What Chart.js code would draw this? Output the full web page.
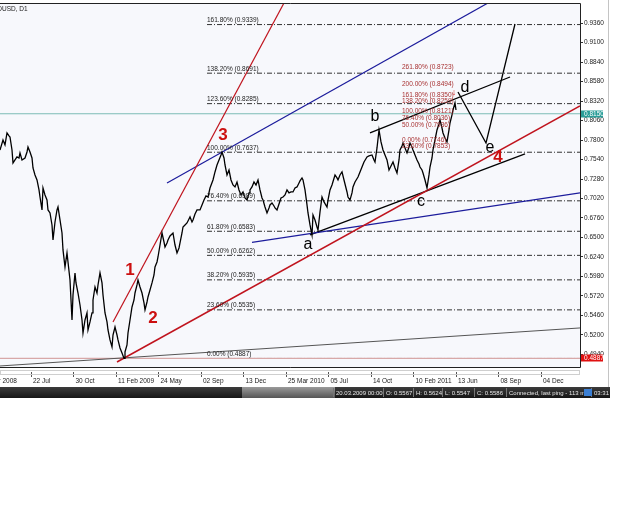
<!DOCTYPE html>
<html><head><meta charset="utf-8">
<script src="https://cdn.jsdelivr.net/npm/chart.js@4.4.1/dist/chart.umd.min.js"></script>
<style>html,body{margin:0;padding:0;background:#fff;overflow:hidden}canvas{display:block}</style>
</head><body>
<canvas id="c" width="625" height="517"></canvas>
<script>
// ---------- DATA ----------
const symbolTitle = 'NZDUSD, D1';
const dateLabels = ['Apr 2008','22 Jul','30 Oct','11 Feb 2009','24 May','02 Sep','13 Dec','25 Mar 2010','05 Jul','14 Oct','10 Feb 2011','13 Jun','08 Sep','04 Dec'];
const dateTickBars = [-23,62,147,232,317,402,487,572,657,742,827,912,997,1082];
const priceTicks = [0.9360,0.9100,0.8840,0.8580,0.8320,0.8060,0.7800,0.7540,0.7280,0.7020,0.6760,0.6500,0.6240,0.5980,0.5720,0.5460,0.5200,0.4940];

const barIndex = [0,6,10,14,18,20,24,26,30,34,38,40,44,50,54,56,60,64,66,70,74,78,80,84,86,90,94,96,100,104,106,110,114,116,120,124,126,130,134,136,140,142,144,146,150,152,156,160,164,166,170,174,176,180,184,186,190,194,196,200,204,206,210,214,216,220,224,226,230,234,236,240,244,248,250,254,256,260,264,268,270,274,276,280,284,288,290,294,296,300,304,308,310,314,316,320,324,328,330,334,336,340,346,350,354,358,360,364,366,370,374,378,380,384,386,390,394,400,404,408,412,416,420,426,430,434,438,442,444,448,450,454,458,462,466,470,474,478,482,486,490,494,498,500,504,508,512,516,520,524,526,530,534,538,540,544,548,550,554,558,562,566,570,574,578,582,586,590,594,598,600,604,606,610,614,616,620,622,624,626,630,634,636,640,644,648,654,656,660,664,670,674,676,680,684,688,694,696,700,704,706,710,716,720,724,728,734,738,744,748,750,754,758,762,766,770,774,778,782,786,790,794,798,800,804,806,810,814,818,820,824,826,830,834,838,840,844,846,850,854,858,860,864,866,870,874,878,880,884,886,890,894,898,900,904,906,910,912];
const closePrice = [0.7667,0.7800,0.7734,0.7894,0.7854,0.7840,0.7667,0.7494,0.7534,0.7574,0.7560,0.7627,0.7534,0.7560,0.7640,0.7707,0.7640,0.7560,0.7427,0.7334,0.7267,0.7134,0.7040,0.6867,0.7160,0.7067,0.7000,0.6867,0.6827,0.6667,0.6467,0.6707,0.6867,0.6907,0.6734,0.6560,0.6334,0.6107,0.6294,0.6174,0.5934,0.5667,0.5400,0.5734,0.6027,0.5894,0.5760,0.5600,0.5400,0.5227,0.5400,0.5494,0.5267,0.5374,0.5494,0.5667,0.5840,0.5760,0.5867,0.6027,0.5894,0.5734,0.5494,0.5374,0.5267,0.5134,0.5040,0.5200,0.5307,0.5200,0.5134,0.5027,0.4960,0.4889,0.4974,0.5067,0.5227,0.5400,0.5574,0.5667,0.5760,0.5867,0.5934,0.5840,0.5760,0.5627,0.5534,0.5640,0.5707,0.5800,0.5894,0.6000,0.6107,0.6174,0.6240,0.6400,0.6560,0.6440,0.6374,0.6427,0.6467,0.6520,0.6560,0.6400,0.6294,0.6360,0.6427,0.6560,0.6640,0.6667,0.6694,0.6747,0.6774,0.6707,0.6734,0.6814,0.6867,0.6867,0.6934,0.7000,0.7054,0.7040,0.7160,0.7267,0.7374,0.7467,0.7534,0.7600,0.7640,0.7560,0.7467,0.7334,0.7400,0.7267,0.7200,0.7174,0.7240,0.7134,0.7067,0.7107,0.7027,0.7000,0.7094,0.7134,0.7174,0.7240,0.7200,0.7267,0.7134,0.7027,0.7000,0.6907,0.6827,0.6894,0.6934,0.6960,0.6920,0.6894,0.6867,0.6947,0.7027,0.7040,0.7067,0.7134,0.7094,0.7107,0.7107,0.7160,0.7174,0.7227,0.7254,0.7294,0.7267,0.7134,0.6934,0.6827,0.6667,0.6600,0.6534,0.6800,0.6734,0.6640,0.6600,0.6840,0.7040,0.6974,0.6907,0.7000,0.7134,0.7200,0.7334,0.7294,0.7267,0.7334,0.7374,0.7267,0.7107,0.7040,0.7000,0.7094,0.7174,0.7240,0.7307,0.7374,0.7440,0.7507,0.7574,0.7587,0.7600,0.7534,0.7507,0.7694,0.7934,0.7774,0.7667,0.7600,0.7534,0.7400,0.7454,0.7507,0.7427,0.7360,0.7534,0.7667,0.7720,0.7760,0.7694,0.7627,0.7707,0.7760,0.7707,0.7667,0.7600,0.7534,0.7480,0.7440,0.7400,0.7360,0.7267,0.7160,0.7334,0.7440,0.7560,0.7667,0.7800,0.7934,0.8014,0.8067,0.7960,0.7894,0.7827,0.7774,0.7934,0.8027,0.8134,0.8200,0.8294,0.8200];

// trend lines: [bar, price] pairs
const wave13Line = [[226,0.5374],[568,0.9627]];
const wave24Line = [[234,0.4840],[1160,0.8254]];
const upperBlueLine = [[334,0.7227],[976,0.9627]];
const lowerBlueLine = [[504,0.6434],[1160,0.7094]];
const baseGrayLine = [[0,0.4787],[1160,0.5294]];
const acLine = [[620,0.6534],[1050,0.7614]];
const bdLine = [[740,0.7894],[1020,0.8640]];
const projectionPath = [[916,0.8440],[972,0.7760],[1030,0.9347]];

const bidPrice = 0.8150;
const levelPrice = 0.4887;

// Fibonacci (large)
const fibPercents = ['161.80%','138.20%','123.60%','100.00%','76.40%','61.80%','50.00%','38.20%','23.60%','0.00%'];
const fibLevels = [0.9339,0.8691,0.8285,0.7637,0.6989,0.6583,0.6262,0.5935,0.5535,0.4887];
const fibStartBar = 414;
const fibEndBar = 1160;

// Fibonacci (small, red text)
const fib2Texts = ['261.80% (0.8723)','200.00% (0.8494)','161.80% (0.8350)','138.20% (0.8259)','100.00% (0.8121)','76.40% (0.8036)','50.00% (0.7936)','0.00% (0.7746)','23.60% (0.7853)'];
const fib2AnchorPrices = [0.8774,0.8547,0.8400,0.8320,0.8187,0.8094,0.8000,0.7800,0.7720];
const fib2AnchorBar = 804;

// wave labels
const waveText = ['1','2','3','4','a','b','c','d','e'];
const waveBars = [260,306,446,996,616,750,842,930,980];
const wavePrices = [0.6067,0.5427,0.7867,0.7574,0.6400,0.8107,0.6974,0.8494,0.7694];
const arrowMark = [908,0.8427];

// ---------- CHART ----------
const NARROW = "'Liberation Sans Narrow','Liberation Sans',Arial,sans-serif";
const SANS = "'Liberation Sans',Arial,sans-serif";
const pts = arr => arr.map(p => ({x:p[0], y:p[1]}));
const lineDs = (data, color, width, dash) => ({type:'line', data, borderColor:color, borderWidth:width, borderDash:dash||[], pointRadius:0, fill:false, tension:0});

const datasets = [];
datasets.push(lineDs(barIndex.map((b,i)=>({x:b,y:closePrice[i]})), '#000', 1.3));
datasets.push(lineDs(pts(wave13Line), '#c0141e', 1.2));
datasets.push(lineDs(pts(wave24Line), '#c0141e', 1.5));
datasets.push(lineDs(pts(upperBlueLine), '#1c1c9c', 1.2));
datasets.push(lineDs(pts(lowerBlueLine), '#1c1c9c', 1.2));
datasets.push(lineDs(pts(baseGrayLine), '#555', 1));
datasets.push(lineDs(pts(acLine), '#000', 1.3));
datasets.push(lineDs(pts(bdLine), '#000', 1.3));
datasets.push(lineDs(pts(projectionPath), '#000', 1.3));
datasets.push(lineDs([{x:0,y:bidPrice},{x:1160,y:bidPrice}], '#7dbdb6', 1));
datasets.push(lineDs([{x:0,y:levelPrice},{x:1160,y:levelPrice}], '#d8a8a8', 1.2));
fibLevels.forEach(v => datasets.push(lineDs([{x:fibStartBar,y:v},{x:fibEndBar,y:v}], '#333', 1, [5,2,1,2])));

const decor = {
  id:'decor',
  beforeDraw(chart){
    const {ctx, chartArea:a} = chart;
    ctx.save();
    ctx.fillStyle='#fff'; ctx.fillRect(0,0,chart.width,chart.height);
    ctx.fillStyle='#f7f8fc'; ctx.fillRect(a.left,a.top,a.right-a.left,a.bottom-a.top);
    ctx.restore();
  },
  afterDraw(chart){
    const {ctx, chartArea:a, scales:{x,y}} = chart;
    ctx.save();
    ctx.strokeStyle='#222'; ctx.lineWidth=1;
    ctx.beginPath();
    ctx.moveTo(0,a.top+0.5); ctx.lineTo(a.right+0.5,a.top+0.5); ctx.lineTo(a.right+0.5,a.bottom+0.5); ctx.lineTo(0,a.bottom+0.5);
    ctx.stroke();
    ctx.strokeStyle='#cfcfcf'; ctx.strokeRect(0.5,370.5,a.right-1,4);
    ctx.fillStyle='#222'; ctx.font='6.5px '+NARROW; ctx.textBaseline='middle'; ctx.textAlign='left';
    const pre = ctx.measureText('NZD').width;
    ctx.fillText(symbolTitle, 2-pre, 9);
    ctx.textBaseline='bottom';
    fibLevels.forEach((v,i)=>{
      ctx.fillText(fibPercents[i]+' ('+v.toFixed(4)+')', x.getPixelForValue(fibStartBar), y.getPixelForValue(v)-1);
    });
    ctx.fillStyle='#a83232'; ctx.textBaseline='middle';
    fib2Texts.forEach((t,i)=>{
      ctx.fillText(t, x.getPixelForValue(fib2AnchorBar), y.getPixelForValue(fib2AnchorPrices[i]));
    });
    ctx.textAlign='center';
    waveText.forEach((t,i)=>{
      const isNum = /\d/.test(t);
      ctx.fillStyle = isNum ? '#cc1010' : '#000';
      ctx.font = (isNum ? 'bold 17px ' : '16px ') + SANS;
      ctx.fillText(t, x.getPixelForValue(waveBars[i]), y.getPixelForValue(wavePrices[i]));
    });
    ctx.fillStyle='#cc1010'; ctx.font='9px '+SANS;
    ctx.fillText('\u2193', x.getPixelForValue(arrowMark[0]), y.getPixelForValue(arrowMark[1]));
    const box = (v, bg) => {
      const py = Math.round(y.getPixelForValue(v));
      ctx.fillStyle=bg; ctx.fillRect(a.right+1, py-3.5, 22, 7);
      ctx.fillStyle='#fff'; ctx.font='6.5px '+NARROW; ctx.textAlign='left'; ctx.textBaseline='middle';
      ctx.fillText(v.toFixed(4), a.right+4, py);
    };
    box(bidPrice,'#2a9d98');
    box(levelPrice,'#e01010');
    ctx.strokeStyle='#c4c4c4'; ctx.beginPath(); ctx.moveTo(608.5,0); ctx.lineTo(608.5,387); ctx.stroke();
    const y0=387, h=11;
    let g=ctx.createLinearGradient(0,y0,0,y0+h); g.addColorStop(0,'#3c3c3c'); g.addColorStop(1,'#161616');
    ctx.fillStyle=g; ctx.fillRect(0,y0,610,h);
    g=ctx.createLinearGradient(0,y0,0,y0+h); g.addColorStop(0,'#9a9a9a'); g.addColorStop(1,'#555');
    ctx.fillStyle=g; ctx.fillRect(242,y0,93,h);
    const status = [['20.03.2009 00:00',336],['O: 0.5567',386],['H: 0.5624',416],['L: 0.5547',445],['C: 0.5586',477],['Connected, last ping - 113 m',509],['03:31',594]];
    ctx.font='6px '+NARROW; ctx.textBaseline='middle'; ctx.textAlign='left';
    status.forEach(([t,px])=>{
      ctx.fillStyle='#e6e6e6'; ctx.fillText(t,px,y0+h/2+0.5);
      ctx.fillStyle='#777'; ctx.fillRect(px-3,y0+1,1,h-2);
    });
    ctx.fillStyle='#3b7fd4'; ctx.fillRect(584,y0+2,8,7);
    ctx.restore();
  }
};

new Chart(document.getElementById('c'), {
  type:'line',
  data:{datasets},
  options:{
    responsive:false, animation:false, events:[],
    layout:{padding:{left:0,right:0,top:3,bottom:130}, autoPadding:false},
    plugins:{legend:{display:false}, tooltip:{enabled:false}},
    scales:{
      x:{type:'linear', position:'bottom', min:0, max:1160, bounds:'data',
        afterBuildTicks:s=>{ s.ticks = dateTickBars.map(v=>({value:v})); },
        afterFit:s=>{ s.height=20; s.paddingLeft=0; s.paddingRight=0; },
        ticks:{autoSkip:false, maxRotation:0, minRotation:0, align:'start', labelOffset:2, padding:0, color:'#222',
          font:{family:NARROW, size:6.5}, callback:(v,i)=>dateLabels[i]},
        grid:{drawOnChartArea:false, tickLength:10, tickColor:'#555', tickBorderDash:[5,5], tickBorderDashOffset:5},
        border:{display:false}
      },
      y:{type:'linear', position:'right', min:0.47733, max:0.96267, bounds:'data',
        afterBuildTicks:s=>{ s.ticks = priceTicks.map(v=>({value:v})); },
        afterFit:s=>{ s.width=45; s.paddingTop=0; s.paddingBottom=0; },
        ticks:{autoSkip:false, padding:1, color:'#222', font:{family:NARROW, size:6.5}, callback:v=>v.toFixed(4)},
        grid:{drawOnChartArea:false, tickLength:3, tickColor:'#333'},
        border:{display:false}
      }
    }
  },
  plugins:[decor]
});
</script>
</body></html>
